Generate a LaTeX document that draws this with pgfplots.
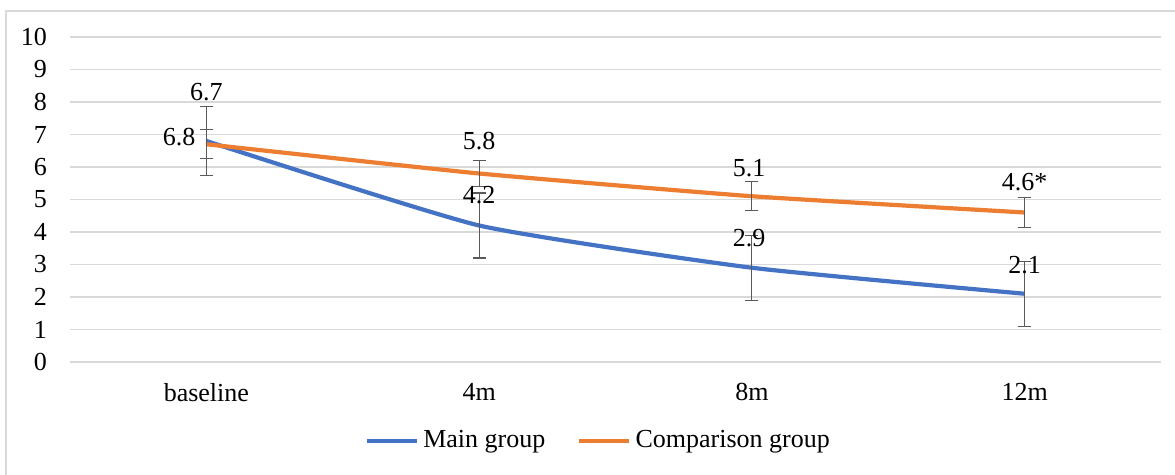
\documentclass[border=0pt]{standalone}
\usepackage{pgfplots}
\pgfplotsset{compat=1.18}
\usepackage{fontspec}
\setmainfont{Liberation Serif}
\definecolor{mainblue}{HTML}{4472C4}
\definecolor{comporange}{HTML}{ED7D31}
\definecolor{gridgray}{HTML}{D9D9D9}
\definecolor{errgray}{HTML}{595959}
\begin{document}
\fontsize{13}{15}\selectfont
\begin{tikzpicture}
\useasboundingbox (0,0) rectangle (587.5pt,237.5pt);
\fill[white] (0,0) rectangle (587.5pt,237.5pt);
\draw[gridgray, line width=0.6pt] (3pt,0pt) -- (3pt,232pt) -- (587.5pt,232pt);
\begin{axis}[
  at={(35pt,56.5pt)}, anchor=south west,
  scale only axis, width=545.5pt, height=162.5pt,
  xmin=-0.5, xmax=3.5, ymin=0, ymax=10,
  xtick={0,1,2,3}, xticklabels={baseline,4m,8m,12m},
  ytick={0,1,...,10},
  ymajorgrids, grid style={gridgray, line width=0.6pt},
  axis line style={draw=none},
  major tick length=0pt,
  /pgf/number format/assume math mode=true,
  tick label style={font=\fontsize{13}{15}\selectfont},
  yticklabel style={xshift=-7pt},
  xticklabel style={yshift=-6pt},
  legend style={at={(0.4853,-0.243)}, anchor=center, draw=none, fill=none,
    legend columns=2, font=\fontsize{13}{15}\selectfont,
    /tikz/every even column/.append style={column sep=14pt},
    inner sep=0pt},
  legend image code/.code={\draw[#1] (0pt,0pt) -- (25pt,0pt);},
]
\addplot[mainblue, line width=2.1pt, smooth, tension=0.3, no marks,
  error bars/.cd, y dir=both, y explicit,
  error bar style={errgray, line width=0.55pt, solid},
  error mark options={rotate=90, errgray, line width=0.55pt, mark size=3.2pt}]
  table[x=x, y=y, y error=e] {
x y e
0 6.8 1.05
1 4.2 1.0
2 2.9 1.0
3 2.1 1.0
};
\addlegendentry{Main group}
\addplot[comporange, line width=2.1pt, smooth, tension=0.3, no marks,
  error bars/.cd, y dir=both, y explicit,
  error bar style={errgray, line width=0.55pt, solid},
  error mark options={rotate=90, errgray, line width=0.55pt, mark size=3.2pt}]
  table[x=x, y=y, y error=e] {
x y e
0 6.7 0.45
1 5.8 0.4
2 5.1 0.45
3 4.6 0.45
};
\addlegendentry{Comparison group}
\node at (axis cs:-0.1,6.92) {6.8};
\node at (axis cs:0,8.32) {6.7};
\node at (axis cs:1,6.8) {5.8};
\node at (axis cs:1,5.14) {4.2};
\node at (axis cs:1.99,5.97) {5.1};
\node at (axis cs:1.99,3.82) {2.9};
\node at (axis cs:3,5.54) {4.6*};
\node at (axis cs:3,2.98) {2.1};
\end{axis}
\end{tikzpicture}
\end{document}
